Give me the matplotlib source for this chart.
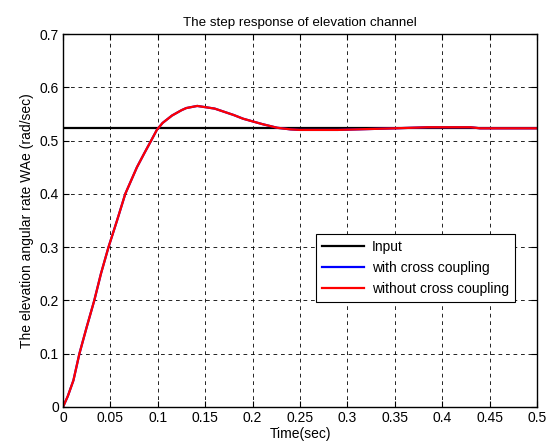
import numpy as np
import matplotlib
matplotlib.use('Agg')
import matplotlib.pyplot as plt

plt.rcParams['font.family'] = ['Liberation Sans', 'DejaVu Sans']

# step input (rad/sec)
t_input = [0.0, 0.5]
w_input = [0.5236, 0.5236]

# response (both curves overlap)
t_resp = [0.0, 0.005, 0.011, 0.0173, 0.025, 0.033, 0.04, 0.048, 0.057, 0.0657,
          0.078, 0.086, 0.093, 0.099, 0.105, 0.11, 0.115, 0.125, 0.13, 0.1416,
          0.16, 0.17, 0.18, 0.19, 0.2, 0.21, 0.226, 0.24, 0.25, 0.29,
          0.33, 0.35, 0.385, 0.43, 0.44, 0.5]
w_with = [0.0, 0.02, 0.05, 0.1, 0.15, 0.2, 0.25, 0.3, 0.35, 0.4,
          0.45, 0.477, 0.5, 0.52, 0.533, 0.54, 0.547, 0.557, 0.561, 0.565,
          0.56, 0.554, 0.548, 0.541, 0.536, 0.531, 0.524, 0.521, 0.52, 0.52,
          0.522, 0.523, 0.525, 0.525, 0.523, 0.523]
w_without = list(w_with)

xticks = np.arange(0, 0.501, 0.05)
yticks = np.arange(0, 0.701, 0.1)
xticklabels = ['0', '0.05', '0.1', '0.15', '0.2', '0.25', '0.3', '0.35', '0.4', '0.45', '0.5']
yticklabels = ['0', '0.1', '0.2', '0.3', '0.4', '0.5', '0.6', '0.7']

fig = plt.figure(figsize=(5.51, 4.45), dpi=100)
ax = fig.add_axes([63/551, 38/445, 474/551, 373/445])

ax.plot(t_input, w_input, color='black', lw=1.6, label='Input')
ax.plot(t_resp, w_with, color='blue', lw=1.6, label='with cross coupling')
ax.plot(t_resp, w_without, color='red', lw=1.6, label='without cross coupling')

ax.set_xlim(0, 0.5)
ax.set_ylim(0, 0.7)
ax.set_xticks(xticks)
ax.set_xticklabels(xticklabels)
ax.set_yticks(yticks)
ax.set_yticklabels(yticklabels)
ax.tick_params(direction='in', top=True, right=True, labelsize=10, length=4, width=0.8, pad=3)
ax.grid(True, color='black', linestyle=(0, (4.5, 4.5)), linewidth=0.6)
for s in ax.spines.values():
    s.set_linewidth(1.0)

ax.set_title('The step response of elevation channel', fontsize=9.6, pad=6)
ax.set_xlabel('Time(sec)', fontsize=10, labelpad=1)
ax.set_ylabel('The elevation angular rate WAe (rad/sec)', fontsize=10, labelpad=4)

leg = ax.legend(loc='upper left', bbox_to_anchor=(316/551, (445-234)/445),
                bbox_transform=fig.transFigure, fontsize=10, frameon=True,
                fancybox=False, edgecolor='black', framealpha=1,
                handlelength=3.0, borderpad=0.45, labelspacing=0.5, handletextpad=0.55,
                borderaxespad=0)
leg.get_frame().set_linewidth(0.8)

plt.savefig('out.png', dpi=100)
plt.close()
